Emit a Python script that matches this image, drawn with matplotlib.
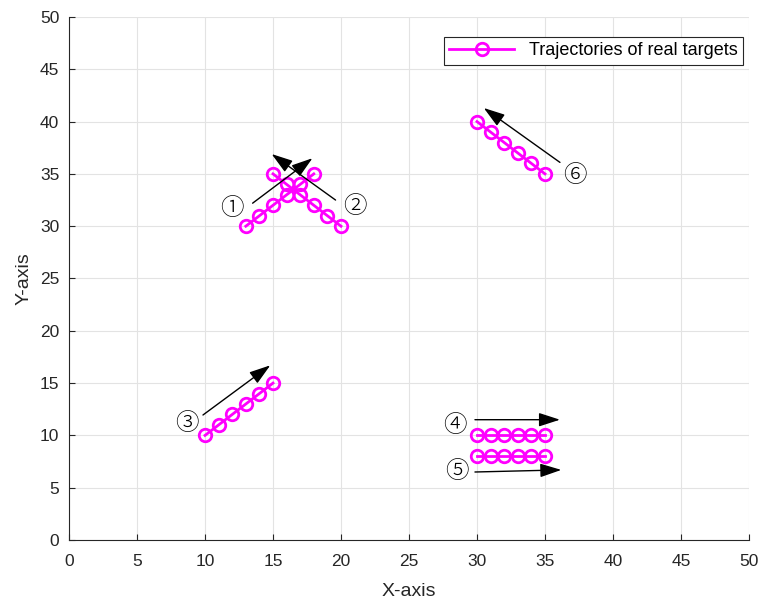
import matplotlib
matplotlib.use('Agg')
import matplotlib.pyplot as plt

plt.rcParams['font.family'] = ['Liberation Sans', 'DejaVu Sans']

# target trajectories
traj_x = [
    [13, 14, 15, 16, 17, 18],
    [20, 19, 18, 17, 16, 15],
    [10, 11, 12, 13, 14, 15],
    [30, 31, 32, 33, 34, 35],
    [30, 31, 32, 33, 34, 35],
    [35, 34, 33, 32, 31, 30],
]
traj_y = [
    [30, 31, 32, 33, 34, 35],
    [30, 31, 32, 33, 34, 35],
    [10, 11, 12, 13, 14, 15],
    [10, 10, 10, 10, 10, 10],
    [8, 8, 8, 8, 8, 8],
    [35, 36, 37, 38, 39, 40],
]

# direction arrows (start -> end)
arrow_start = [(13.5, 32.2), (19.6, 32.5), (9.85, 11.95), (29.85, 11.5), (29.85, 6.5), (36.1, 36.1)]
arrow_end = [(17.9, 36.5), (14.9, 36.9), (14.8, 16.7), (36.1, 11.5), (36.2, 6.7), (30.5, 41.3)]

labels = ['①', '②', '③', '④', '⑤', '⑥']
label_pos = [(12.0, 31.7), (21.0, 31.9), (8.7, 11.1), (28.4, 10.9), (28.5, 6.5), (37.2, 34.8)]

fig = plt.figure(figsize=(7.61, 6.03), dpi=100)
ax = fig.add_axes([0.0907, 0.1045, 0.8935, 0.8673])

for i in range(len(traj_x)):
    ax.plot(traj_x[i], traj_y[i], '-o', color='#ff00ff', lw=2, ms=9,
            mfc='none', mew=2, label='Trajectories of real targets' if i == 0 else None)

for s, e in zip(arrow_start, arrow_end):
    ax.annotate('', xy=e, xytext=s,
                arrowprops=dict(arrowstyle='-|>,head_length=1.3,head_width=0.42',
                                color='black', lw=1, shrinkA=0, shrinkB=0))

for lab, (x, y) in zip(labels, label_pos):
    ax.text(x, y, lab, fontsize=17, ha='center', va='center',
            family=['Noto Sans CJK JP', 'DejaVu Sans'], fontweight='light')

ax.set_xlim(0, 50)
ax.set_ylim(0, 50)
ax.set_xticks(range(0, 51, 5))
ax.set_yticks(range(0, 51, 5))
ax.grid(True, color='#e3e3e3', lw=0.8)
ax.set_axisbelow(True)
ax.tick_params(direction='in', labelsize=12.5, length=4, pad=7,
               color='#262626', labelcolor='#262626')
ax.tick_params(axis='x', pad=10)
ax.spines['top'].set_visible(False)
ax.spines['right'].set_visible(False)
for sp in ['left', 'bottom']:
    ax.spines[sp].set_color('#262626')
    ax.spines[sp].set_linewidth(0.8)
ax.set_xlabel('X-axis', fontsize=14, color='#262626', labelpad=10)
ax.set_ylabel('Y-axis', fontsize=14, color='#262626', labelpad=5)

leg = ax.legend(loc='upper right', fontsize=13, fancybox=False, edgecolor='#262626',
                framealpha=1, handlelength=3.6, borderpad=0.3, borderaxespad=0,
                bbox_to_anchor=(0.991, 0.962))
leg.get_frame().set_linewidth(0.8)

fig.savefig('out.png', dpi=100)
